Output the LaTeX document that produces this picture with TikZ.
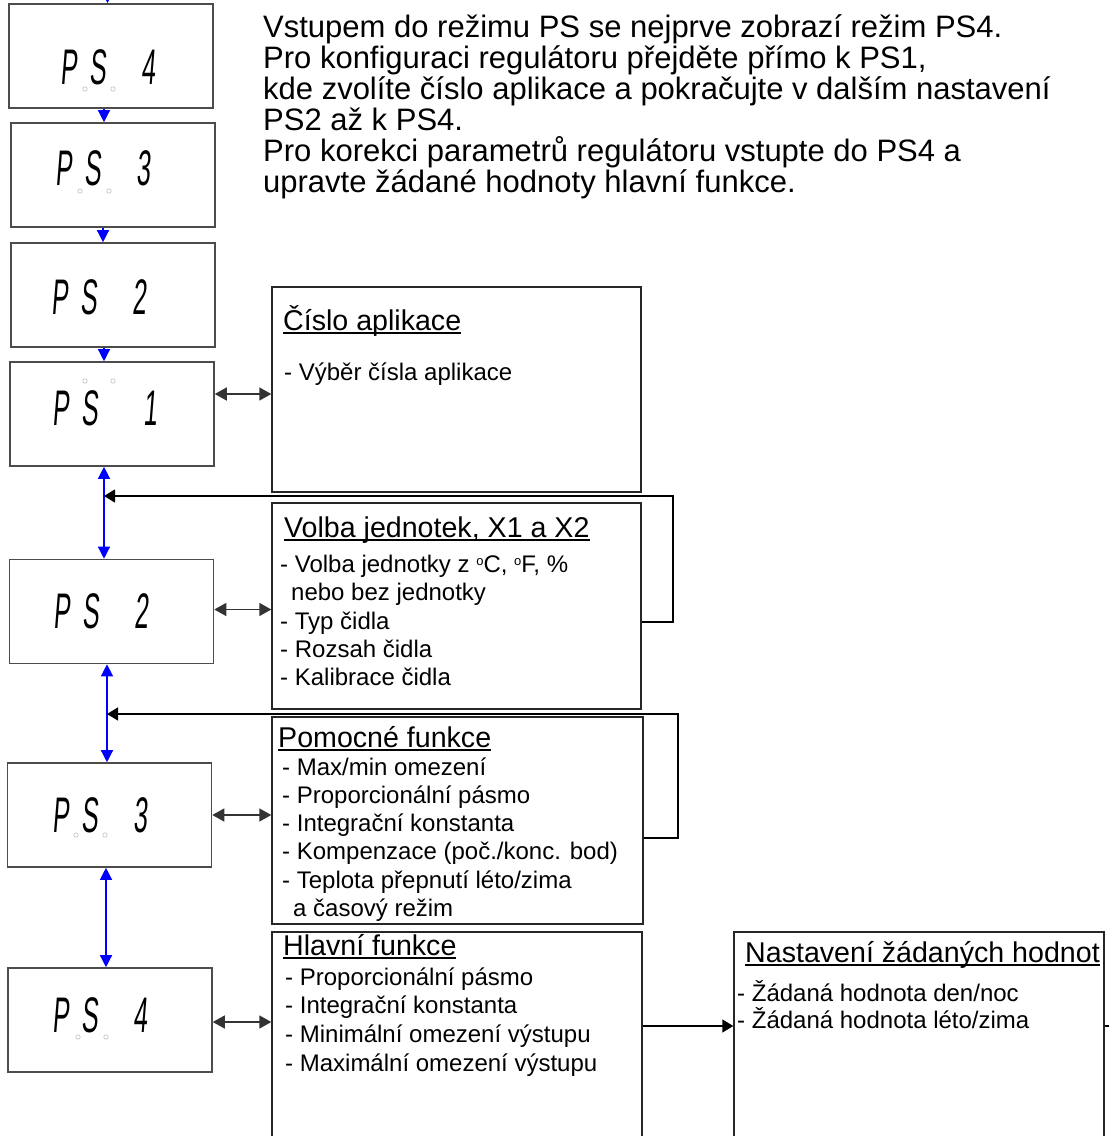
\documentclass[tikz,border=0pt]{standalone}
\usepackage{fontspec}
\setmainfont{Liberation Sans}
\newfontfamily\lcdfont[FakeStretch=0.5,FakeSlant=0.08]{Liberation Sans}
\usetikzlibrary{positioning,arrows.meta}
\setlength{\lineskiplimit}{-100pt}
\definecolor{lcdblue}{RGB}{0,0,255}
\newcommand{\psnum}[1]{P\kern13pt S\kern35pt #1}
\newcommand{\fl}{\rule{0pt}{24pt}}
\newcommand{\dg}{\raisebox{7pt}{\fontsize{13}{13}\selectfont o}}
\newsavebox{\ulbox}
\newcommand{\uln}[1]{\sbox{\ulbox}{#1}\rlap{\rule[-4pt]{\wd\ulbox}{1.8pt}}\usebox{\ulbox}}

\begin{document}
\begin{tikzpicture}[
  x=1pt, y=-1pt,
  font=\fontsize{24}{28.4}\selectfont,
  lcd/.style={draw=black!70, line width=1.6pt, minimum width=204pt, minimum height=104pt, inner sep=0pt},
  digits/.style={font=\lcdfont\fontsize{50}{50}\selectfont, anchor=base west, inner sep=0pt},
  panel/.style={draw=black!85, line width=1.4pt, minimum width=369pt, inner sep=0pt},
  ptitle/.style={font=\fontsize{28.6}{30}\selectfont, anchor=base west, inner sep=0pt},
  plist/.style={font=\fontsize{24}{28.4}\selectfont, anchor=north west, inner sep=0pt, align=left},
  flow/.style={->, draw=lcdblue, line width=1.3pt, >={Triangle[length=12pt,width=12pt]}},
  both/.style={<->, draw=black!80, line width=1.5pt, >={Triangle[length=12pt,width=13pt]}},
  back/.style={->, draw=black, line width=1.4pt, >={Triangle[length=11pt,width=13pt]}},
  dp/.style={draw=black!25, line width=0.6pt},
]
\useasboundingbox (0,0) rectangle (1109,1136);
\clip (0,0) rectangle (1109,1136);

% ---- display column, entry order ----
\node[lcd] (top4) at (111,56) {};
\node[lcd] (top3) at (113,175) {};
\node[lcd] (top2) at (113,295) {};
\node[lcd] (top1) at (112,414) {};
\node[digits] (top4t) at (60,84) {\psnum{4}};
\node[digits] (top3t) at (55,185) {\psnum{3}};
\node[digits] (top2t) at (51,314) {\psnum{2}};
\node[digits] (top1t) at (52,425) {\psnum{\kern10pt 1}};

% ---- display column, setting order ----
\node[lcd] (set2) at (111.5,611.5) {};
\node[lcd] (set3) at (109.5,815) {};
\node[lcd] (set4) at (110,1020) {};
\node[digits] (set2t) at (53,628) {\psnum{2}};
\node[digits] (set3t) at (52,832) {\psnum{3}};
\node[digits] (set4t) at (52,1032) {\psnum{4}};

% decimal points
\foreach \cx/\cy in {85/89, 113/89, 80/191, 109/191, 85/381, 113/381, 76/835, 105/835, 78/1037, 106/1037}
  \draw[dp] (\cx,\cy) circle[radius=2.2pt];

% ---- intro text ----
\node[anchor=north west, inner sep=0pt, align=left, font=\fontsize{31}{31}\selectfont] (intro) at (263,0)
  {\rule{0pt}{37pt}Vstupem do režimu PS se nejprve zobrazí režim PS4.\\
   Pro konfiguraci regulátoru přejděte přímo k PS1,\\
   kde zvolíte číslo aplikace a pokračujte v dalším nastavení\\
   PS2 až k PS4.\\
   Pro korekci parametrů regulátoru vstupte do PS4 a\\
   upravte žádané hodnoty hlavní funkce.};

% ---- parameter panels ----
\node[panel, minimum height=205pt] (aplik) at (456.5,389.5) {};
\node[panel, minimum height=206pt] (jednot) at (456.5,606) {};
\node[panel, minimum width=371pt, minimum height=207pt] (pomoc) at (457.5,820.5) {};
\node[panel, minimum width=370pt, minimum height=240pt] (hlavni) at (457,1052) {};
\node[panel, minimum width=370pt, minimum height=240pt] (zadane) at (919,1052) {};

\node[ptitle] (aplikT) at (283,330) {\uln{Číslo aplikace}};
\node[plist] (aplikL) at (284,356) {\fl- Výběr čísla aplikace};

\node[ptitle] (jednotT) at (284,537) {\uln{Volba jednotek, X1 a X2}};
\node[plist] (jednotL) at (280,548)
  {\fl- Volba jednotky z \dg C, \dg F, \%\\
   \hspace*{11pt}nebo bez jednotky\\
   - Typ čidla\\
   - Rozsah čidla\\
   - Kalibrace čidla};

\node[ptitle] (pomocT) at (278,747) {\uln{Pomocné funkce}};
\node[plist, font=\fontsize{24}{28.2}\selectfont] (pomocL) at (282,751)
  {\fl- Max/min omezení\\
   - Proporcionální pásmo\\
   - Integrační konstanta\\
   - Kompenzace (poč./konc. bod)\\
   - Teplota přepnutí léto/zima\\
   \hspace*{11pt}a časový režim};

\node[ptitle] (hlavniT) at (283,955) {\uln{Hlavní funkce}};
\node[plist, font=\fontsize{24}{28.7}\selectfont] (hlavniL) at (285,961)
  {\fl- Proporcionální pásmo\\
   - Integrační konstanta\\
   - Minimální omezení výstupu\\
   - Maximální omezení výstupu};

\node[ptitle] (zadaneT) at (745,962) {\uln{Nastavení žádaných hodnot}};
\node[plist, font=\fontsize{24}{27.5}\selectfont] (zadaneL) at (737,977)
  {\fl- Žádaná hodnota den/noc\\
   - Žádaná hodnota léto/zima};

% ---- blue navigation ----
\coordinate (entry) at (107.5,-20);
\draw[flow] (entry) -- (entry |- top4.north);
\draw[flow] ([xshift=-7pt]top4.south) -- ([xshift=-7pt]top4.south |- top3.north);
\draw[flow] ([xshift=-10pt]top3.south) -- ([xshift=-10pt]top3.south |- top2.north);
\draw[flow] ([xshift=-9pt]top2.south) -- ([xshift=-9pt]top2.south |- top1.north);
\coordinate (lnk1) at ([xshift=-8pt]top1.south);
\coordinate (lnk2) at ([xshift=-4.5pt]set2.south);
\coordinate (lnk3) at ([xshift=-3.5pt]set3.south);
\draw[flow, <->] (lnk1) -- (lnk1 |- set2.north);
\draw[flow, <->] (lnk2) -- (lnk2 |- set3.north);
\draw[flow, <->] (lnk3) -- (lnk3 |- set4.north);

% ---- panel links ----
\draw[both] ([yshift=20pt]top1.east) -- ([yshift=20pt]top1.east -| aplik.west);
\draw[both] ([yshift=2pt]set2.east) -- ([yshift=2pt]set2.east -| jednot.west);
\draw[both] (set3.east) -- (set3.east -| pomoc.west);
\draw[both] ([yshift=-2pt]set4.east) -- ([yshift=-2pt]set4.east -| hlavni.west);
\draw[back] ([yshift=26pt]hlavni.east) -- ([yshift=26pt]hlavni.east -| zadane.west);
\draw[line width=1.4pt] ([yshift=26pt]zadane.east) -- ++(20pt,0pt);

% ---- return loops ----
\coordinate (fb1) at (673,496);
\coordinate (fb2) at (678,714);
\draw[back] ([yshift=-16pt]jednot.east) -| (fb1) -- (fb1 -| lnk1);
\draw[back] ([yshift=-17.5pt]pomoc.east) -| (fb2) -- (fb2 -| lnk2);

\end{tikzpicture}
\end{document}
